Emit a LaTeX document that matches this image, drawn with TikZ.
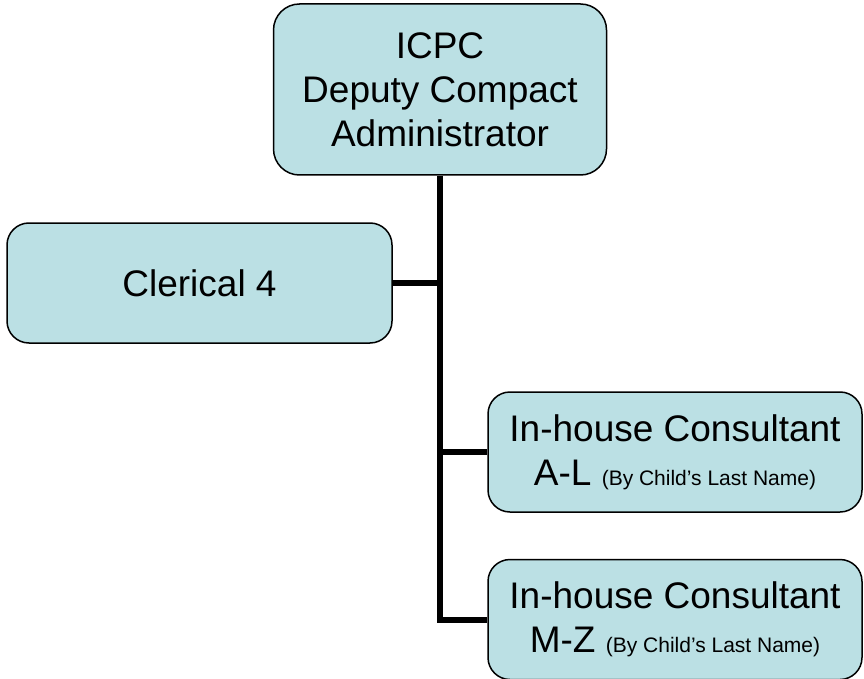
\documentclass[tikz,border=0pt]{standalone}
\usepackage{fontspec}
\setmainfont{Liberation Sans}
\definecolor{boxfill}{RGB}{187,224,228}
\begin{document}
\begin{tikzpicture}[x=1pt,y=-1pt,
  orgbox/.style={draw=black, line width=1.5pt, fill=boxfill, rounded corners=22pt,
    align=center, inner sep=0pt, font=\fontsize{37}{44}\selectfont},
  link/.style={line width=6pt, line join=miter}]
  \useasboundingbox (0,0) rectangle (864,679);

  % boxes
  \node[orgbox, minimum width=333pt, minimum height=171pt, rounded corners=26pt] (dca) at (440,89.5)
    {ICPC\\Deputy Compact\\Administrator};
  \node[orgbox, minimum width=385pt, minimum height=120pt] (clerk) at (199.5,283)
    {Clerical 4};
  \node[orgbox, minimum width=374pt, minimum height=120pt] (conal) at (675,452)
    {In-house Consultant\\A-L {\fontsize{21}{25}\selectfont(By Child’s Last Name)}};
  \node[orgbox, minimum width=374pt, minimum height=120pt] (conmz) at (675,619.5)
    {In-house Consultant\\M-Z {\fontsize{21}{25}\selectfont(By Child’s Last Name)}};

  % connectors
  \coordinate (trunkend) at (dca.south |- conmz.west);
  \draw[link] (dca.south) -- (trunkend) -- (conmz.west);
  \draw[link] (clerk.east) -- (clerk.east -| dca.south);
  \draw[link] (conal.west) -- (conal.west -| dca.south);
\end{tikzpicture}
\end{document}
